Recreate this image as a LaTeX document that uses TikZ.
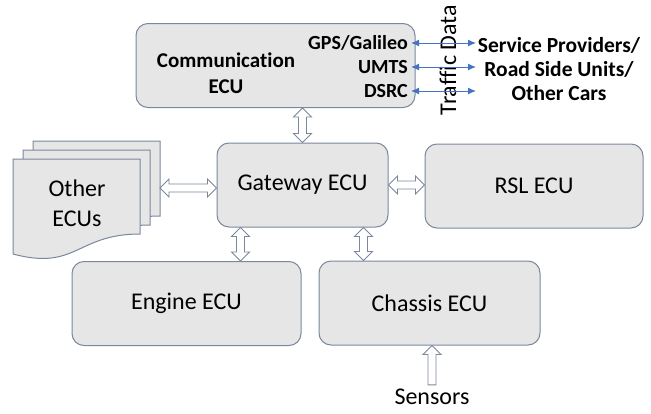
\documentclass[tikz,border=0pt]{standalone}
\usepackage{fontspec}
\setmainfont{Carlito}[Ligatures=NoCommon]
\usetikzlibrary{calc,arrows.meta,positioning}
\definecolor{boxfill}{RGB}{231,230,230}
\definecolor{boxline}{RGB}{122,136,158}
\definecolor{linkblue}{RGB}{68,114,196}
\newcommand{\blkhl}{9pt}
\newcommand{\blkhw}{9pt}
\newcommand{\blksw}{4pt}
\newcommand{\ecupage}[2]{\draw[page] (#1,#2) -- ++(127,0) -- ++(0,75) .. controls +(-63.5,0) and +(63.5,17) .. ++(-127,20) -- cycle;}
\tikzset{
  ecu/.style={draw=boxline,fill=boxfill,line width=1pt,rounded corners=12pt,minimum height=84pt,font=\fontsize{24}{29}\selectfont},
  page/.style={draw=boxline,fill=boxfill,line width=1pt},
  lbl/.style={inner sep=0pt,font=\fontsize{21.5}{24}\selectfont\bfseries},
  radio/.style={lbl,anchor=base east,font=\fontsize{20}{24}\selectfont\bfseries},
  txt/.style={inner sep=0pt,font=\fontsize{24}{30}\selectfont},
  link/.style={linkblue,line width=1pt,{Latex[length=8pt,width=7pt]}-{Latex[length=8pt,width=7pt]}},
  bdbl/.style={draw=boxline,fill=white,line width=0.9pt,
    to path={-- ($($(\tikztostart)!\blkhl!(\tikztotarget)$)!\blkhw!90:(\tikztotarget)$)
      -- ($($(\tikztostart)!\blkhl!(\tikztotarget)$)!\blksw!90:(\tikztotarget)$)
      -- ($($(\tikztotarget)!\blkhl!(\tikztostart)$)!\blksw!-90:(\tikztostart)$)
      -- ($($(\tikztotarget)!\blkhl!(\tikztostart)$)!\blkhw!-90:(\tikztostart)$)
      -- (\tikztotarget)
      -- ($($(\tikztotarget)!\blkhl!(\tikztostart)$)!\blkhw!90:(\tikztostart)$)
      -- ($($(\tikztotarget)!\blkhl!(\tikztostart)$)!\blksw!90:(\tikztostart)$)
      -- ($($(\tikztostart)!\blkhl!(\tikztotarget)$)!\blksw!-90:(\tikztotarget)$)
      -- ($($(\tikztostart)!\blkhl!(\tikztotarget)$)!\blkhw!-90:(\tikztotarget)$)
      -- cycle}},
  bsgl/.style={draw=boxline,fill=white,line width=0.9pt,
    to path={($(\tikztostart)!\blksw!90:(\tikztotarget)$)
      -- ($($(\tikztotarget)!\blkhl!(\tikztostart)$)!\blksw!-90:(\tikztostart)$)
      -- ($($(\tikztotarget)!\blkhl!(\tikztostart)$)!\blkhw!-90:(\tikztostart)$)
      -- (\tikztotarget)
      -- ($($(\tikztotarget)!\blkhl!(\tikztostart)$)!\blkhw!90:(\tikztostart)$)
      -- ($($(\tikztotarget)!\blkhl!(\tikztostart)$)!\blksw!90:(\tikztostart)$)
      -- ($(\tikztostart)!\blksw!-90:(\tikztotarget)$)
      -- cycle}}
}
\begin{document}
\begin{tikzpicture}[x=1pt,y=-1pt]
  \useasboundingbox (0,0) rectangle (651,413);
  % communication unit
  \node[ecu,minimum width=279pt] (comm) at (275.5,65.5) {};
  \node[lbl,align=center,font=\fontsize{21}{26}\selectfont\bfseries] (commtxt) at (226,73) {Communication\\ECU};
  \node[radio] (gps) at (408,49) {GPS/Galileo};
  \node[radio] (umts) at (408,73) {UMTS};
  \node[radio] (dsrc) at (408,97) {DSRC};
  \node[lbl,align=center] (srv) at (559,69) {Service Providers/\\Road Side Units/\\Other Cars};
  \node[txt,rotate=90] (traffic) at (448,60) {Traffic Data};
  \coordinate (rx) at (473,0);
  \draw[link] ([shift={(3,-6)}]gps.base east) -- ([shift={(3,-6)}]gps.base east -| rx);
  \draw[link] ([shift={(3,-6)}]umts.base east) -- ([shift={(3,-6)}]umts.base east -| rx);
  \draw[link] ([shift={(3,-6)}]dsrc.base east) -- ([shift={(3,-6)}]dsrc.base east -| rx);
  % ECUs
  \node[ecu,minimum width=171pt] (gw) at (302.5,185) {Gateway ECU};
  \node[ecu,minimum width=218pt] (rsl) at (534,186) {RSL ECU};
  \node[ecu,minimum width=229pt] (eng) at (186.5,303.5) {Engine ECU};
  \node[ecu,minimum width=221pt] (ch) at (429.5,303) {Chassis ECU};
  \ecupage{33}{141}
  \ecupage{23}{150}
  \ecupage{13}{159}
  \node[txt,align=center] (oth) at (77,203) {Other\\ECUs};
  \coordinate (othx) at (160,188);
  \node[txt] (sens) at (432,397) {Sensors};
  % block arrows
  \draw[bdbl] (gw.north |- comm.south) to (gw.north);
  \draw[bdbl] (othx) to (othx -| gw.west);
  \draw[bdbl] (gw.east) to (gw.east -| rsl.west);
  \draw[bdbl] ([xshift=-62]gw.south) to ([xshift=-62]gw.south |- eng.north);
  \draw[bdbl] ([xshift=61]gw.south) to ([xshift=61]gw.south |- ch.north);
  \draw[bsgl] ([yshift=4]sens.north) to (sens.north |- ch.south);
\end{tikzpicture}
\end{document}
